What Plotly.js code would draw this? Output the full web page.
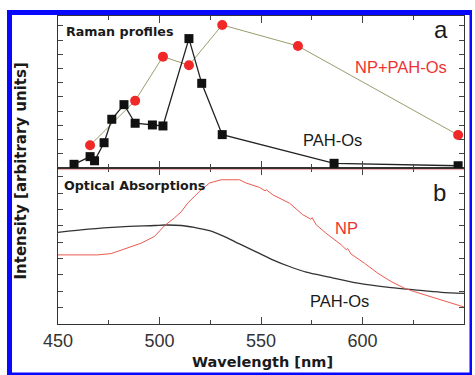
<!DOCTYPE html>
<html>
<head>
<meta charset="utf-8">
<script src="https://cdn.plot.ly/plotly-3.0.1.min.js"></script>
<style>
  html, body { margin: 0; padding: 0; background: #fff; }
  #chart { width: 475px; height: 375px; }
</style>
</head>
<body>
<div id="chart"></div>
<script>
// Raman excitation profiles (laser lines, nm) and intensities (arbitrary units)
const ramanWlPAH = [457.9, 465.8, 468.0, 472.7, 476.5, 482.5, 488.0, 496.5, 501.7, 514.5, 520.8, 530.9, 586.0, 647.1];
const ramanPAH   = [0.26, 0.80, 0.51, 1.78, 3.43, 4.46, 3.15, 3.03, 2.96, 9.11, 5.96, 2.35, 0.33, 0.16];

const ramanWlNP = [465.8, 488.0, 501.7, 514.5, 530.9, 568.2, 647.1];
const ramanNP   = [1.60, 4.74, 7.84, 7.23, 10.07, 8.59, 2.32];

// Optical absorption spectra
const absWlPAH = [450, 465, 481, 497.5, 502.5, 510.7, 517.2, 524.6, 531.2, 539.4, 547.6, 555.8, 564.0, 572.3, 583.7, 597.7, 614.1, 625.6, 638.8, 650];
const absPAH   = [5.61, 5.81, 5.95, 6.03, 6.06, 6.03, 5.91, 5.72, 5.40, 4.90, 4.42, 3.93, 3.52, 3.17, 2.87, 2.50, 2.23, 2.09, 1.94, 1.88];

const absWlNP = [450, 469.5, 476.2, 484.4, 491.0, 497.5, 502.5, 507.4, 510.7, 513.9, 519.7, 524.6, 530.4, 539.4,
                 542.7, 549.3, 552.0, 552.6, 555.8, 564.0, 570.6, 574.5, 575.2, 577.2, 582.1, 589.5, 592.0, 592.7,
                 594.4, 601.0, 607.5, 614.1, 620.7, 625.6, 633.8, 642.0, 649.4, 650];
const absNP   = [4.23, 4.23, 4.31, 4.64, 4.95, 5.36, 6.02, 6.50, 6.87, 7.40, 8.12, 8.63, 8.83, 8.83,
                 8.63, 8.36, 8.15, 8.22, 7.91, 7.40, 6.69, 6.42, 6.50, 6.07, 5.55, 4.85, 4.55, 4.62,
                 4.28, 3.72, 3.11, 2.60, 2.19, 1.98, 1.67, 1.37, 1.06, 1.04];

const xTicks = [450, 500, 550, 600, 650];

// pixel -> paper helpers for overlay text and frame
const L = 58, R = 464, T = 16, B = 324;
const PX = v => (v - L) / (R - L);
const PY = v => (B - v) / (B - T);
const splitFrac = PY(168);

const RED = 'rgb(236,52,50)';

const traces = [
  { x: ramanWlNP, y: ramanNP, xaxis: 'x2', yaxis: 'y2', mode: 'lines+markers',
    line: { color: '#9a9c6c', width: 1 },
    marker: { symbol: 'circle', size: 10, color: 'rgb(240,40,40)' } },
  { x: ramanWlPAH, y: ramanPAH, xaxis: 'x2', yaxis: 'y2', mode: 'lines+markers',
    line: { color: '#222', width: 1.3 },
    marker: { symbol: 'square', size: 9, color: '#111' } },
  { x: absWlPAH, y: absPAH, xaxis: 'x', yaxis: 'y', mode: 'lines',
    line: { color: '#333', width: 1.3, shape: 'spline', smoothing: 0.8 } },
  { x: absWlNP, y: absNP, xaxis: 'x', yaxis: 'y', mode: 'lines',
    line: { color: 'rgb(232,90,80)', width: 1 } }
];

const axisCommon = {
  showline: true, linecolor: '#333', linewidth: 1, mirror: 'ticks',
  ticks: 'inside', tickcolor: '#444', tickwidth: 1, showgrid: false, zeroline: false
};

const xCommon = Object.assign({}, axisCommon, {
  range: [450, 650], tickvals: xTicks, ticktext: xTicks.map(String), ticklen: 7,
  minor: { dtick: 25, tick0: 450, ticks: 'inside', ticklen: 4, tickcolor: '#444', showgrid: false }
});

const layout = {
  width: 475, height: 375,
  margin: { l: L, r: 475 - R, t: T, b: 375 - B },
  paper_bgcolor: '#fff', plot_bgcolor: '#fff',
  showlegend: false,
  xaxis: Object.assign({}, xCommon, {
    anchor: 'y', showticklabels: true,
    tickfont: { family: 'Liberation Sans, Arial, sans-serif', size: 18, color: '#333' }
  }),
  xaxis2: Object.assign({}, xCommon, { anchor: 'y2', matches: 'x', showticklabels: false }),
  yaxis: Object.assign({}, axisCommon, {
    domain: [0, splitFrac], range: [0, 9.55], dtick: 1, tick0: 0, ticklen: 5, showticklabels: false
  }),
  yaxis2: Object.assign({}, axisCommon, {
    domain: [splitFrac, 1], range: [0, 10.7], dtick: 1, tick0: 0, ticklen: 5, showticklabels: false
  }),
  shapes: [
    // reddish edge under the panel divider
    { type: 'line', xref: 'paper', yref: 'paper', x0: 0, x1: 1, y0: PY(169.6), y1: PY(169.6),
      line: { color: 'rgba(230,90,90,0.55)', width: 1 }, layer: 'above' },
    // blue frame
    { type: 'rect', xref: 'paper', yref: 'paper', x0: PX(7), x1: PX(12), y0: PY(375), y1: PY(10),
      fillcolor: '#0808ff', line: { width: 0 }, layer: 'above' },
    { type: 'rect', xref: 'paper', yref: 'paper', x0: PX(7), x1: PX(472), y0: PY(15), y1: PY(10),
      fillcolor: '#0808ff', line: { width: 0 }, layer: 'above' },
    { type: 'rect', xref: 'paper', yref: 'paper', x0: PX(469.5), x1: PX(472), y0: PY(375), y1: PY(10),
      fillcolor: '#0808ff', line: { width: 0 }, layer: 'above' },
    { type: 'rect', xref: 'paper', yref: 'paper', x0: PX(7), x1: PX(472), y0: PY(375), y1: PY(372.5),
      fillcolor: '#0808ff', line: { width: 0 }, layer: 'above' }
  ],
  annotations: [
    { text: 'Raman profiles', x: PX(64), y: PY(31.5), xanchor: 'left', yanchor: 'middle',
      font: { family: 'DejaVu Sans', weight: 'bold', size: 12.7, color: '#1a1a1a' } },
    { text: 'a', x: PX(441), y: PY(30), xanchor: 'center', yanchor: 'middle',
      font: { family: 'Liberation Sans, Arial', size: 24, color: '#1a1a1a' } },
    { text: 'NP+PAH-Os', x: PX(401), y: PY(67), xanchor: 'center', yanchor: 'middle',
      font: { family: 'Liberation Sans, Arial', size: 16.5, color: RED } },
    { text: 'PAH-Os', x: PX(332), y: PY(140), xanchor: 'center', yanchor: 'middle',
      font: { family: 'Liberation Sans, Arial', size: 16.5, color: '#1a1a1a' } },
    { text: 'Optical Absorptions', x: PX(62), y: PY(185), xanchor: 'left', yanchor: 'middle',
      font: { family: 'DejaVu Sans', weight: 'bold', size: 12.7, color: '#1a1a1a' } },
    { text: 'b', x: PX(439), y: PY(192), xanchor: 'center', yanchor: 'middle',
      font: { family: 'Liberation Sans, Arial', size: 24, color: '#1a1a1a' } },
    { text: 'NP', x: PX(346), y: PY(228), xanchor: 'center', yanchor: 'middle',
      font: { family: 'Liberation Sans, Arial', size: 16.5, color: RED } },
    { text: 'PAH-Os', x: PX(339), y: PY(301), xanchor: 'center', yanchor: 'middle',
      font: { family: 'Liberation Sans, Arial', size: 16.5, color: '#1a1a1a' } },
    { text: 'Wavelength [nm]', x: PX(262), y: PY(362), xanchor: 'center', yanchor: 'middle',
      font: { family: 'DejaVu Sans', weight: 'bold', size: 14.5, color: '#1a1a1a' } },
    { text: 'Intensity [arbitrary units]', x: PX(20), y: PY(171.5), xanchor: 'center', yanchor: 'middle',
      textangle: -90,
      font: { family: 'DejaVu Sans', weight: 'bold', size: 15, color: '#1a1a1a' } }
  ].map(a => Object.assign({ xref: 'paper', yref: 'paper', showarrow: false }, a))
};

Plotly.newPlot('chart', traces, layout, { staticPlot: true, displayModeBar: false });
</script>
</body>
</html>
